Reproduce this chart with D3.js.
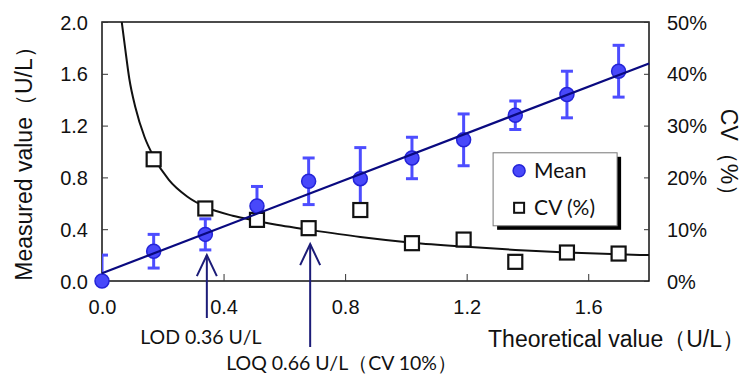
<!DOCTYPE html>
<html>
<head>
<meta charset="utf-8">
<script src="https://cdn.jsdelivr.net/npm/d3@7"></script>
<style>
  body { margin: 0; background: #fff; }
  svg { display: block; }
  .tick-label { font-family: "Liberation Sans", Arial, sans-serif; font-size: 20px; fill: #111; }
  .axis-title { font-family: "Liberation Sans", Arial, sans-serif; font-size: 23px; fill: #111; }
  .note { font-family: Lato, "Noto Sans", sans-serif; font-size: 19.5px; fill: #111; }
  .legend-text { font-family: Lato, "Noto Sans", sans-serif; font-size: 21px; fill: #111; }
</style>
</head>
<body>
<svg id="chart" width="747" height="374"></svg>
<script>
// theoretical concentration (U/L)
var theoretical = [0, 0.17, 0.34, 0.51, 0.68, 0.85, 1.02, 1.19, 1.36, 1.53, 1.70];
// measured mean and SD (U/L)
var meanValues = [0, 0.23, 0.36, 0.58, 0.77, 0.79, 0.95, 1.09, 1.28, 1.44, 1.62];
var sdValues   = [0.20, 0.13, 0.12, 0.15, 0.18, 0.24, 0.16, 0.20, 0.11, 0.18, 0.20];
// CV (%) per level, none for the blank
var cvValues = [null, 23.5, 14.0, 11.8, 10.2, 13.7, 7.3, 8.0, 3.7, 5.5, 5.3];

// regression line of the means
var fitX = [0, 1.8];
var fitY = [0.06, 1.68];

// CV fitted curve
var cvCurveX = [0.065, 0.076, 0.09, 0.11, 0.14, 0.17, 0.22, 0.28, 0.34, 0.43, 0.51, 0.59, 0.68, 0.85, 1.02, 1.2, 1.36, 1.53, 1.7, 1.8];
var cvCurveY = [50, 45, 39, 33.5, 27.8, 24, 19.5, 16.3, 14.3, 12.6, 11.6, 10.7, 9.9, 8.5, 7.4, 6.6, 6.0, 5.5, 5.15, 5.0];

var xTicks = [0, 0.4, 0.8, 1.2, 1.6];
var yTicks = [0, 0.4, 0.8, 1.2, 1.6, 2.0];
var cvTicks = [0, 10, 20, 30, 40, 50];

// LOD / LOQ annotations
var markLabels = ["LOD 0.36 U/L", "LOQ 0.66 U/L（CV 10%）"];
var markX = [0.345, 0.685];
var markTipY = [0.2, 0.285];

var svg = d3.select("#chart");
var margin = {top: 22, right: 98, bottom: 93, left: 102};
var width = 747 - margin.left - margin.right,
    height = 374 - margin.top - margin.bottom;

var x = d3.scaleLinear().domain([0, 1.8]).range([0, width]);
var y = d3.scaleLinear().domain([0, 2.0]).range([height, 0]);
var yCV = d3.scaleLinear().domain([0, 50]).range([height, 0]);

var g = svg.append("g")
    .attr("transform", "translate(" + margin.left + "," + margin.top + ")");

g.append("clipPath").attr("id", "plotclip")
  .append("rect").attr("width", width).attr("height", height);

// frame
g.append("rect")
    .attr("width", width).attr("height", height)
    .attr("fill", "none").attr("stroke", "#111").attr("stroke-width", 1.5);

// axes with inward ticks
var xAxis = d3.axisBottom(x).tickValues(xTicks).tickSize(-7).tickFormat(d3.format(".1f")).tickPadding(15);
var yAxis = d3.axisLeft(y).tickValues(yTicks).tickSize(-6).tickFormat(d3.format(".1f")).tickPadding(14);
var cvAxis = d3.axisRight(yCV).tickValues(cvTicks).tickSize(-5).tickFormat(function (d) { return d + "%"; }).tickPadding(18);

function styleAxis(sel) {
  sel.select(".domain").remove();
  sel.selectAll(".tick line").attr("stroke", "#333");
  sel.selectAll(".tick text").attr("class", "tick-label").attr("fill", "#111");
}

g.append("g").attr("transform", "translate(0," + height + ")").call(xAxis).call(styleAxis)
  .selectAll(".tick text").attr("dy", "0.9em");
g.append("g").call(yAxis).call(styleAxis)
  .selectAll(".tick text").attr("dy", "0.35em");
var cvG = g.append("g").attr("transform", "translate(" + width + ",0)").call(cvAxis).call(styleAxis);
cvG.selectAll(".tick text").attr("dy", "0.35em");

// axis titles
g.append("text").attr("class", "axis-title")
    .attr("transform", "rotate(-90)")
    .attr("x", -136).attr("y", -margin.left + 32)
    .attr("text-anchor", "middle")
    .text("Measured value（U/L）");

g.append("text").attr("class", "axis-title")
    .attr("x", width + 96).attr("y", height + 66)
    .attr("text-anchor", "end")
    .text("Theoretical value（U/L）");

g.append("text").attr("class", "axis-title")
    .attr("transform", "translate(" + (width + 72) + ",136) rotate(90)")
    .attr("text-anchor", "middle")
    .text("CV（%）");

// CV fitted curve
var curvePts = cvCurveX.map(function (d, i) { return [d, cvCurveY[i]]; });
g.append("path")
    .datum(curvePts)
    .attr("fill", "none").attr("stroke", "#111").attr("stroke-width", 2)
    .attr("clip-path", "url(#plotclip)")
    .attr("d", d3.line().x(function (d) { return x(d[0]); }).y(function (d) { return yCV(d[1]); }).curve(d3.curveMonotoneX));

// error bars
var pts = theoretical.map(function (d, i) { return {x: d, mean: meanValues[i], sd: sdValues[i], cv: cvValues[i]}; });
var eb = g.append("g").attr("clip-path", "url(#plotclip)")
    .attr("stroke", "#4d4dff").attr("stroke-width", 3);
eb.selectAll(".vbar").data(pts).enter().append("line")
    .attr("x1", function (d) { return x(d.x); }).attr("x2", function (d) { return x(d.x); })
    .attr("y1", function (d) { return y(d.mean - d.sd); }).attr("y2", function (d) { return y(d.mean + d.sd); });
eb.selectAll(".cap1").data(pts).enter().append("line")
    .attr("x1", function (d) { return x(d.x) - 6; }).attr("x2", function (d) { return x(d.x) + 6; })
    .attr("y1", function (d) { return y(d.mean + d.sd); }).attr("y2", function (d) { return y(d.mean + d.sd); });
eb.selectAll(".cap2").data(pts).enter().append("line")
    .attr("x1", function (d) { return x(d.x) - 6; }).attr("x2", function (d) { return x(d.x) + 6; })
    .attr("y1", function (d) { return y(d.mean - d.sd); }).attr("y2", function (d) { return y(d.mean - d.sd); });

// CV squares
g.selectAll(".cvsq").data(pts.filter(function (d) { return d.cv != null; })).enter().append("rect")
    .attr("x", function (d) { return x(d.x) - 7; })
    .attr("y", function (d) { return yCV(d.cv) - 7; })
    .attr("width", 14).attr("height", 14)
    .attr("fill", "#fff").attr("stroke", "#111").attr("stroke-width", 2.2);

// mean circles
g.selectAll(".mean").data(pts).enter().append("circle")
    .attr("cx", function (d) { return x(d.x); })
    .attr("cy", function (d) { return y(d.mean); })
    .attr("r", 7)
    .attr("fill", "#4848fa").attr("stroke", "#2424d8").attr("stroke-width", 1.5);

// regression line
g.append("line")
    .attr("x1", x(fitX[0])).attr("y1", y(fitY[0]))
    .attr("x2", x(fitX[1])).attr("y2", y(fitY[1]))
    .attr("stroke", "#0a0a80").attr("stroke-width", 2.2);

// LOD / LOQ arrows
var arrowColor = "#1c1c78";
var tailBottom = [height + 37, height + 66];
markX.forEach(function (mx, i) {
  var px = x(mx), tip = y(markTipY[i]);
  g.append("line").attr("x1", px).attr("x2", px).attr("y1", tailBottom[i]).attr("y2", tip)
      .attr("stroke", arrowColor).attr("stroke-width", 2);
  g.append("path")
      .attr("d", "M" + (px - 10) + "," + (tip + 21) + "L" + px + "," + tip + "L" + (px + 10) + "," + (tip + 21))
      .attr("fill", "none").attr("stroke", arrowColor).attr("stroke-width", 2);
});
g.append("text").attr("class", "note")
    .attr("x", x(markX[0]) - 6).attr("y", height + 63).attr("text-anchor", "middle")
    .text(markLabels[0]);
g.append("text").attr("class", "note")
    .attr("x", x(markX[1]) - 84).attr("y", height + 89)
    .text(markLabels[1]);

// legend
var lg = g.append("g").attr("transform", "translate(" + x(1.287) + "," + y(0.99) + ")");
lg.append("rect").attr("x", 4).attr("y", 4).attr("width", 124).attr("height", 73).attr("fill", "#000");
lg.append("rect").attr("width", 124).attr("height", 73).attr("fill", "#fff").attr("stroke", "#777").attr("stroke-width", 1);
lg.append("circle").attr("cx", 26).attr("cy", 18).attr("r", 6)
    .attr("fill", "#4848fa").attr("stroke", "#2424d8").attr("stroke-width", 1.5);
lg.append("text").attr("class", "legend-text").attr("x", 41).attr("y", 25).text("Mean");
lg.append("rect").attr("x", 21).attr("y", 50).attr("width", 10).attr("height", 10)
    .attr("fill", "#fff").attr("stroke", "#111").attr("stroke-width", 2);
lg.append("text").attr("class", "legend-text").attr("x", 41).attr("y", 62).text("CV (%)");
</script>
</body>
</html>
